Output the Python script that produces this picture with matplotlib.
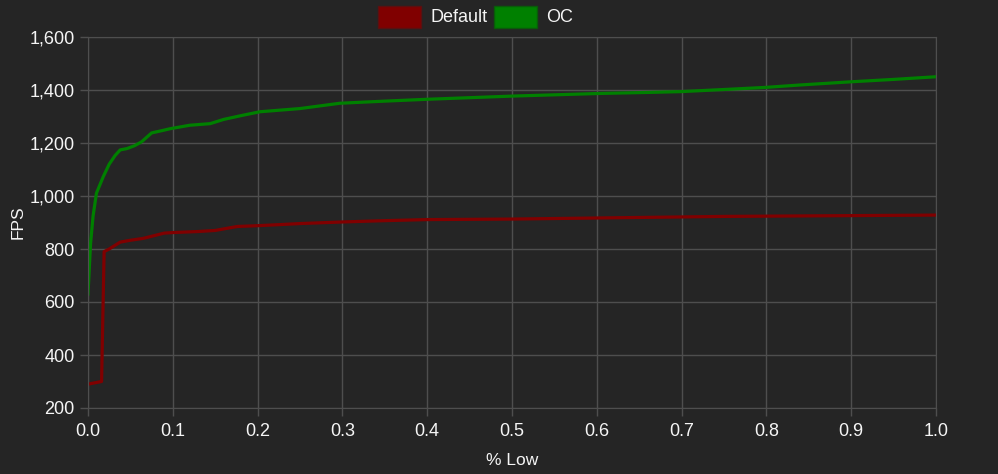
import matplotlib.pyplot as plt
from matplotlib.patches import Rectangle

plt.rcParams['font.family'] = ['Liberation Sans', 'DejaVu Sans']

# % low vs FPS
default_x = [0, 0.016, 0.019, 0.025, 0.038, 0.05, 0.065, 0.08, 0.09, 0.1, 0.13, 0.15,
             0.176, 0.2, 0.226, 0.25, 0.3, 0.35, 0.4, 0.45, 0.5, 0.55, 0.6, 0.65,
             0.7, 0.75, 0.8, 0.85, 0.9, 0.95, 1.0]
default_y = [290, 300, 790, 800, 826, 833, 840, 852, 860, 862, 866, 870,
             885, 888, 892, 896, 902, 907, 911, 912, 913, 915, 917, 919,
             921, 923, 924, 925, 926, 927, 928]

oc_x = [0, 0.003, 0.006, 0.01, 0.018, 0.025, 0.032, 0.038, 0.046, 0.055, 0.063, 0.075,
        0.089, 0.097, 0.12, 0.144, 0.16, 0.183, 0.203, 0.25, 0.297, 0.35, 0.4, 0.5,
        0.604, 0.663, 0.7, 0.757, 0.8, 0.84, 0.9, 0.95, 1.0]
oc_y = [630, 820, 925, 1011, 1073, 1120, 1153, 1174, 1179, 1190, 1204, 1238,
        1248, 1254, 1267, 1273, 1289, 1305, 1318, 1330, 1350, 1358, 1365, 1377,
        1387, 1391, 1394, 1403, 1410, 1419, 1431, 1440, 1450]

series_names = ['Default', 'OC']
series_colors = ['#800000', '#008000']

bg = '#252525'
grid_c = '#4e4e4e'
txt = '#f5f5f5'

fig = plt.figure(figsize=(9.98, 4.74), dpi=100, facecolor=bg)
ax = fig.add_axes([88/998, 1-408/474, (936-88)/998, (408-37)/474])
ax.set_facecolor(bg)

ax.plot(default_x, default_y, color=series_colors[0], lw=2.3, solid_joinstyle='round')
ax.plot(oc_x, oc_y, color=series_colors[1], lw=2.3, solid_joinstyle='round')

ax.set_xlim(0, 1)
ax.set_ylim(200, 1600)
ax.set_xticks([i / 10 for i in range(11)])
ax.set_xticklabels(['%.1f' % (i / 10) for i in range(11)])
ax.set_yticks(range(200, 1601, 200))
ax.set_yticklabels(['{:,}'.format(v) for v in range(200, 1601, 200)])

ax.grid(True, color=grid_c, lw=1)
for s in ax.spines.values():
    s.set_color(grid_c)
ax.tick_params(colors=grid_c, labelcolor=txt, labelsize=13, length=6, width=1)
ax.tick_params(axis='x', pad=5)

ax.set_xlabel('% Low', color=txt, fontsize=12.5, labelpad=9)
ax.set_ylabel('FPS', color=txt, fontsize=12.5, labelpad=3)

# legend drawn at the top, Chart.js style
W, H = 998, 474
boxes = [(378, 'Default'), (494, 'OC')]
for (px, name), col in zip(boxes, series_colors):
    fig.add_artist(Rectangle((px / W, 1 - 28 / H), 43 / W, 22 / H,
                             transform=fig.transFigure, facecolor=col,
                             edgecolor='#5a1010' if col == '#800000' else '#0a5a0a', lw=1))
    fig.text((px + 52) / W, 1 - 17 / H, name, color=txt, fontsize=13, va='center', ha='left')

plt.savefig('out.png', dpi=100, facecolor=bg)
